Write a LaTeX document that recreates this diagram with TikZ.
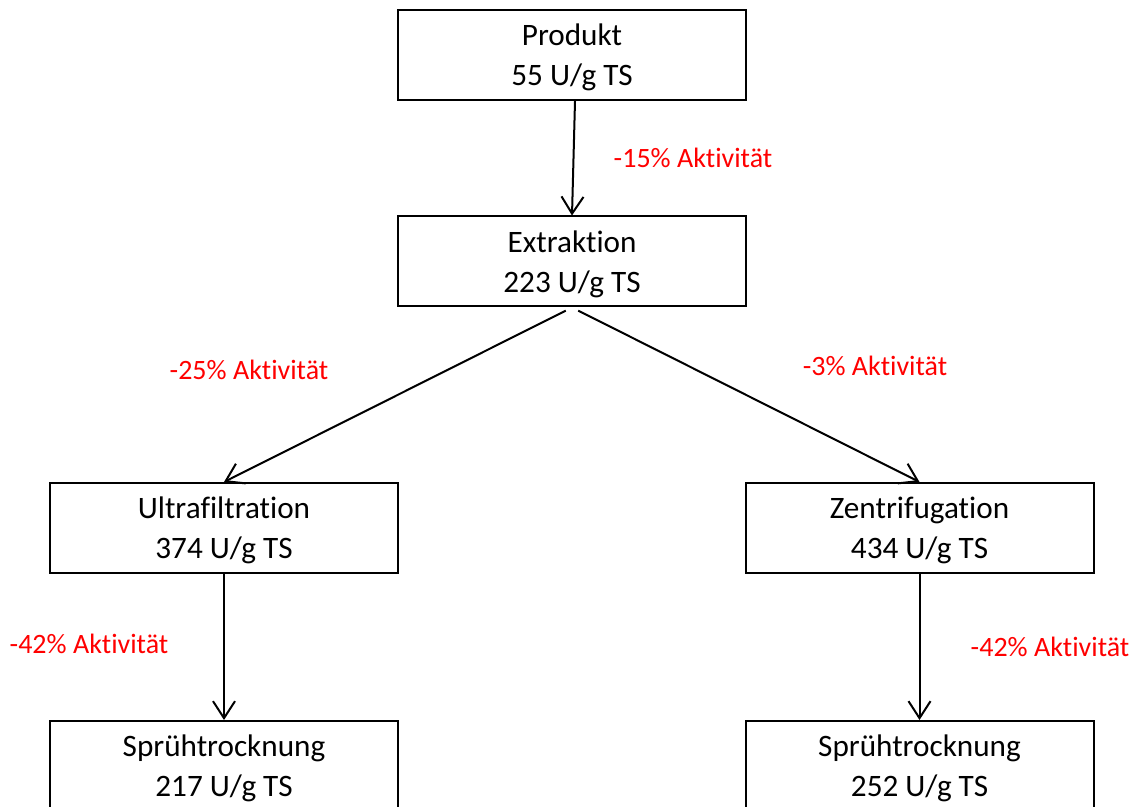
\documentclass[tikz,border=0pt]{standalone}
\usepackage{fontspec}
\setmainfont{Carlito}[Ligatures=NoCommon]
\usetikzlibrary{arrows.meta}

\tikzset{
  stage/.style={draw, line width=1pt, minimum width=174pt, minimum height=45pt,
    align=center, inner sep=0pt, text depth=0pt, font=\fontsize{15.6}{20}\selectfont},
  loss/.style={text=red, font=\fontsize{14}{17}\selectfont},
  flow/.style={-{Straight Barb[length=8.5pt,width=11pt]}, line width=1pt}
}

\begin{document}
\begin{tikzpicture}[x=0.5pt, y=-0.5pt]
  \useasboundingbox (0,0) rectangle (1134,807);
  \clip (0,0) rectangle (1134,807);

  % Draw the process stages
  \node[stage] (prod) at (572,55) {Produkt\\55 U/g TS};
  \node[stage, text depth=-3pt] (ext) at (572,261.5) {Extraktion\\223 U/g TS};
  \node[stage] (uf) at (224,528) {Ultrafiltration\\374 U/g TS};
  \node[stage] (zf) at (919.5,528) {Zentrifugation\\434 U/g TS};
  \node[stage, text depth=-2pt] (sp1) at (224,766) {Sprühtrocknung\\217 U/g TS};
  \node[stage] (sp2) at (919.5,766) {Sprühtrocknung\\252 U/g TS};

  % Draw arrows
  \draw[flow] ([xshift=1.5pt]prod.south) -- (ext.north);
  \draw[flow, shorten <=3.5pt] (ext.south) -- (uf.north);
  \draw[flow, shorten <=3.5pt] (ext.south) -- (zf.north);
  \draw[flow] (uf.south) -- (sp1.north);
  \draw[flow] (zf.south) -- (sp2.north);

  % Activity losses
  \node[loss] (l1) at (693,158) {-15\% Aktivität};
  \node[loss] (l2) at (249,370) {-25\% Aktivität};
  \node[loss] (l3) at (875,366) {-3\% Aktivität};
  \node[loss] (l4) at (89,644) {-42\% Aktivität};
  \node[loss] (l5) at (1050,647) {-42\% Aktivität};
\end{tikzpicture}
\end{document}
